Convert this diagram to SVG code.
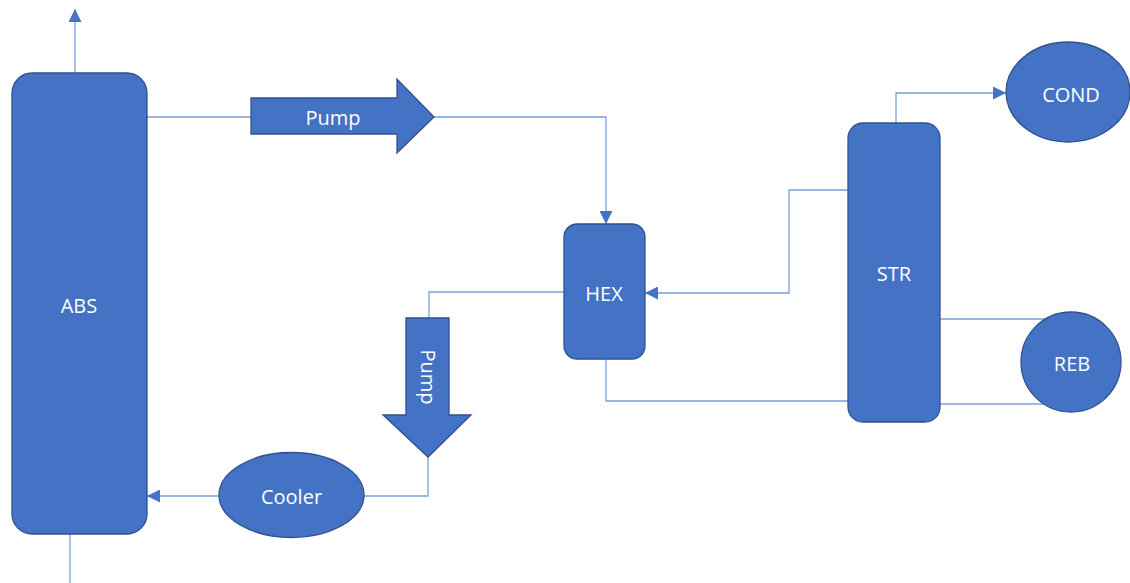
<svg xmlns="http://www.w3.org/2000/svg" width="1130" height="583" viewBox="0 0 1130 583">
<defs>
<style>
.n{fill:#4472C4;stroke:#2F528F;stroke-width:1.3}
.t{fill:#fff;font-family:"Open Sans","Liberation Sans",sans-serif;font-size:20px;text-anchor:middle;dominant-baseline:central}
.c{fill:none;stroke:#7C9FDA;stroke-width:1.3}
</style>
<marker id="a" viewBox="0 0 10 10" refX="10" refY="5" markerWidth="13" markerHeight="13" markerUnits="userSpaceOnUse" orient="auto">
<path d="M0,0 L10,5 L0,10 Z" fill="#4472C4"/>
</marker>
</defs>
<rect width="1130" height="583" fill="#fff"/>
<g id="connectors">
<path class="c" d="M75,73 V9" marker-end="url(#a)"/>
<path class="c" d="M70,534 V583"/>
<path class="c" d="M147,117 H251"/>
<path class="c" d="M434,117 H606 V224" marker-end="url(#a)"/>
<path class="c" d="M564,292 H429 V318"/>
<path class="c" d="M428,457 V496 H364"/>
<path class="c" d="M219,496 H147" marker-end="url(#a)"/>
<path class="c" d="M606,359 V401 H849"/>
<path class="c" d="M896,123 V93 H1006" marker-end="url(#a)"/>
<path class="c" d="M848,190 H789 V293 H645" marker-end="url(#a)"/>
<path class="c" d="M940,319 H1046"/>
<path class="c" d="M940,404 H1044"/>
</g>
<g id="ABS">
<rect class="n" x="12" y="73" width="135" height="461" rx="20"/>
<text class="t" x="79" y="305">ABS</text>
</g>
<g id="pump1">
<path class="n" d="M251,98 H397 V79 L434,117 L397,153 V134 H251 Z"/>
<text class="t" x="333" y="117">Pump</text>
</g>
<g id="HEX">
<rect class="n" x="564" y="224" width="81" height="135" rx="13"/>
<text class="t" x="604" y="293">HEX</text>
</g>
<g id="pump2">
<path class="n" d="M406,318 H449 V415 H471 L428,457 L383,415 H406 Z"/>
<text class="t" transform="translate(428 377) rotate(90)">Pump</text>
</g>
<g id="Cooler">
<ellipse class="n" cx="291.5" cy="495" rx="72.5" ry="42.5"/>
<text class="t" x="291.5" y="496">Cooler</text>
</g>
<g id="STR">
<rect class="n" x="848" y="123" width="92" height="299" rx="15"/>
<text class="t" x="894" y="273">STR</text>
</g>
<g id="COND">
<ellipse class="n" cx="1068" cy="92" rx="62" ry="50"/>
<text class="t" x="1071" y="94">COND</text>
</g>
<g id="REB">
<circle class="n" cx="1071" cy="362" r="50"/>
<text class="t" x="1072" y="363">REB</text>
</g>
</svg>
